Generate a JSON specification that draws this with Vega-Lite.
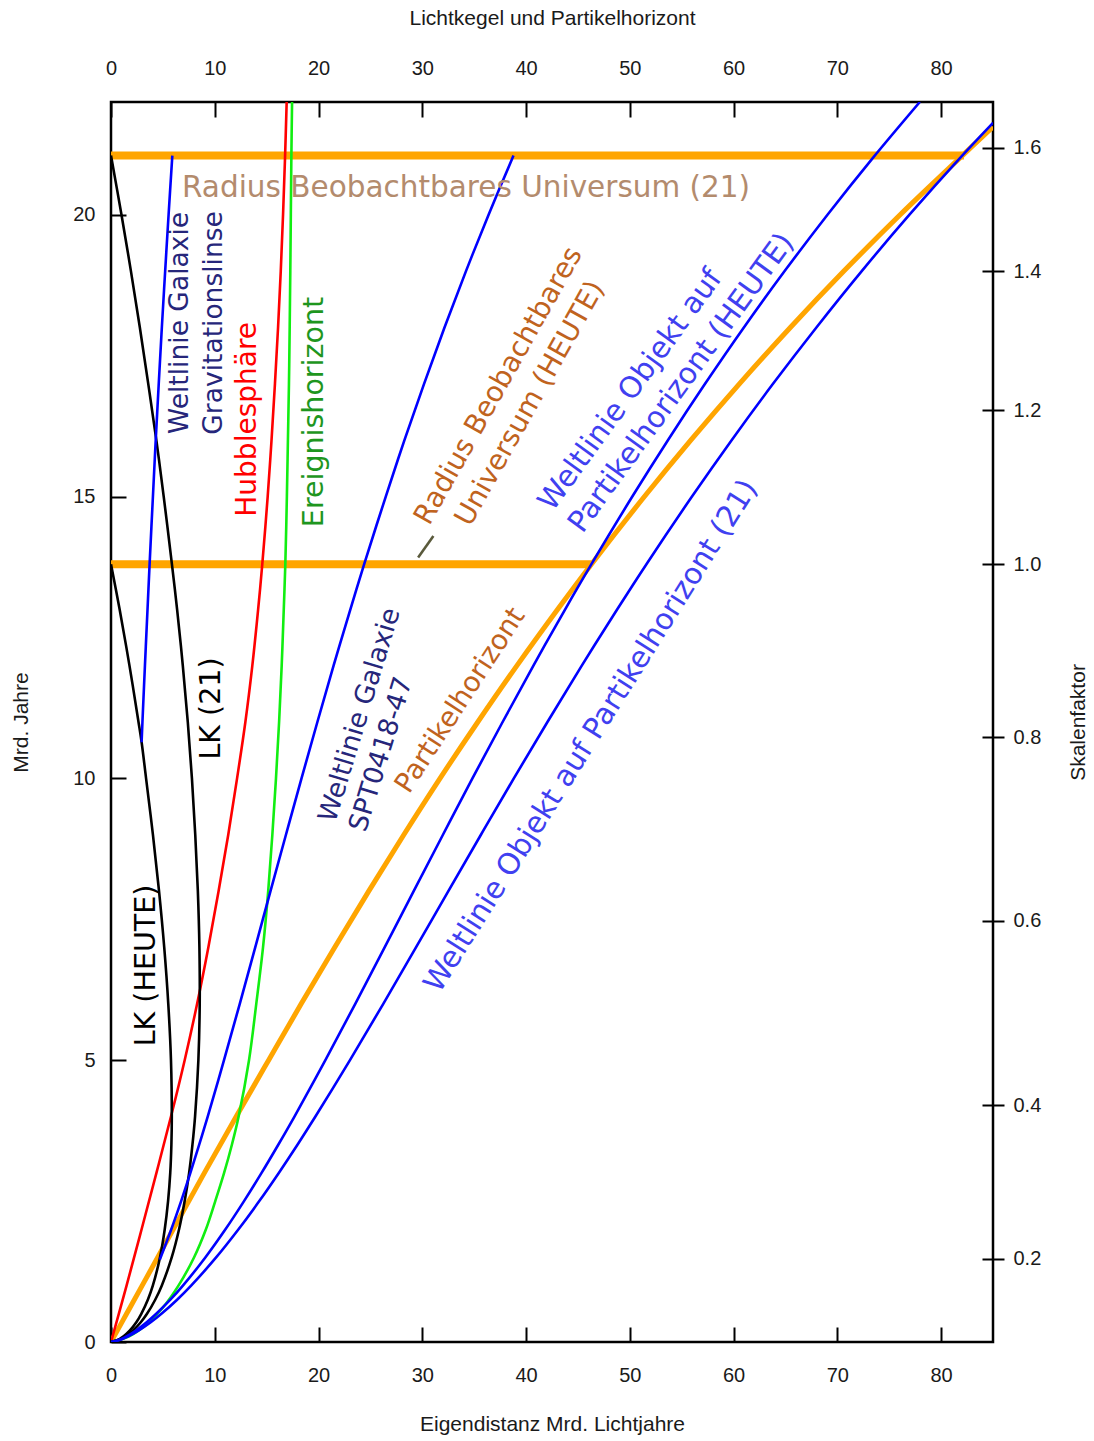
{
  "$schema": "https://vega.github.io/schema/vega-lite/v6.json",
  "width": 882,
  "height": 1240,
  "autosize": {"type": "none"},
  "padding": {"left": 111, "top": 102, "right": 101, "bottom": 99},
  "background": "white",
  "config": {
    "view": {"stroke": "#000", "strokeWidth": 2.5},
    "axis": {
      "domain": false, "grid": false, "tickColor": "#000", "tickWidth": 2,
      "labelFont": "Liberation Sans", "labelFontSize": 20, "labelColor": "#1a1a1a",
      "labelOverlap": false, "labelBound": false, "labelFlush": false,
      "titleFont": "Liberation Sans", "titleFontSize": 21, "titleFontWeight": "normal", "titleColor": "#1a1a1a"
    }
  },
  "datasets": {
    "curves": [
      {"series": "R21", "x": 0, "t": 21.05}, {"series": "R21", "x": 82.2, "t": 21.05},
      {"series": "RH", "x": 0, "t": 13.8}, {"series": "RH", "x": 46.3, "t": 13.8},
      {"series": "PH", "x": 0, "t": 0}, {"series": "PH", "x": 0.3, "t": 0.1}, {"series": "PH", "x": 1.5, "t": 0.5}, {"series": "PH", "x": 3.0, "t": 1.0}, {"series": "PH", "x": 6.0, "t": 2.0}, {"series": "PH", "x": 9.0, "t": 3.0}, {"series": "PH", "x": 12.07, "t": 4.0}, {"series": "PH", "x": 15.19, "t": 5.0}, {"series": "PH", "x": 18.33, "t": 6.0}, {"series": "PH", "x": 21.55, "t": 7.0}, {"series": "PH", "x": 24.84, "t": 8.0}, {"series": "PH", "x": 28.22, "t": 9.0}, {"series": "PH", "x": 31.71, "t": 10.0}, {"series": "PH", "x": 35.35, "t": 11.0}, {"series": "PH", "x": 39.12, "t": 12.0}, {"series": "PH", "x": 43.05, "t": 13.0}, {"series": "PH", "x": 46.3, "t": 13.8}, {"series": "PH", "x": 51.41, "t": 15.0}, {"series": "PH", "x": 55.88, "t": 16.0}, {"series": "PH", "x": 60.56, "t": 17.0}, {"series": "PH", "x": 65.47, "t": 18.0}, {"series": "PH", "x": 70.63, "t": 19.0}, {"series": "PH", "x": 76.05, "t": 20.0}, {"series": "PH", "x": 81.76, "t": 21.0}, {"series": "PH", "x": 85.0, "t": 21.56},
      {"series": "Hubble", "x": 0, "t": 0}, {"series": "Hubble", "x": 1.5, "t": 1}, {"series": "Hubble", "x": 2.95, "t": 2}, {"series": "Hubble", "x": 4.38, "t": 3}, {"series": "Hubble", "x": 5.78, "t": 4}, {"series": "Hubble", "x": 7.1, "t": 5}, {"series": "Hubble", "x": 8.3, "t": 6}, {"series": "Hubble", "x": 9.38, "t": 7}, {"series": "Hubble", "x": 10.37, "t": 8}, {"series": "Hubble", "x": 11.3, "t": 9}, {"series": "Hubble", "x": 12.15, "t": 10}, {"series": "Hubble", "x": 12.95, "t": 11}, {"series": "Hubble", "x": 13.62, "t": 12}, {"series": "Hubble", "x": 14.18, "t": 13}, {"series": "Hubble", "x": 14.58, "t": 13.8}, {"series": "Hubble", "x": 15.1, "t": 15}, {"series": "Hubble", "x": 15.47, "t": 16}, {"series": "Hubble", "x": 15.8, "t": 17}, {"series": "Hubble", "x": 16.1, "t": 18}, {"series": "Hubble", "x": 16.36, "t": 19}, {"series": "Hubble", "x": 16.58, "t": 20}, {"series": "Hubble", "x": 16.77, "t": 21}, {"series": "Hubble", "x": 16.93, "t": 22},
      {"series": "EH", "x": 0, "t": 0}, {"series": "EH", "x": 1.75, "t": 0.1}, {"series": "EH", "x": 3.35, "t": 0.3}, {"series": "EH", "x": 4.95, "t": 0.6}, {"series": "EH", "x": 6.5, "t": 1.0}, {"series": "EH", "x": 8.0, "t": 1.5}, {"series": "EH", "x": 9.15, "t": 2.0}, {"series": "EH", "x": 10.05, "t": 2.5}, {"series": "EH", "x": 10.9, "t": 3.0}, {"series": "EH", "x": 11.65, "t": 3.5}, {"series": "EH", "x": 12.3, "t": 4.0}, {"series": "EH", "x": 13.3, "t": 5.0}, {"series": "EH", "x": 14.0, "t": 6.0}, {"series": "EH", "x": 14.65, "t": 7.0}, {"series": "EH", "x": 15.15, "t": 8.0}, {"series": "EH", "x": 15.55, "t": 9.0}, {"series": "EH", "x": 15.9, "t": 10}, {"series": "EH", "x": 16.2, "t": 11}, {"series": "EH", "x": 16.45, "t": 12}, {"series": "EH", "x": 16.65, "t": 13}, {"series": "EH", "x": 16.8, "t": 13.8}, {"series": "EH", "x": 16.95, "t": 15}, {"series": "EH", "x": 17.05, "t": 16}, {"series": "EH", "x": 17.15, "t": 17}, {"series": "EH", "x": 17.22, "t": 18}, {"series": "EH", "x": 17.28, "t": 19}, {"series": "EH", "x": 17.33, "t": 20}, {"series": "EH", "x": 17.38, "t": 21}, {"series": "EH", "x": 17.45, "t": 22},
      {"series": "LKH", "x": 0, "t": 0}, {"series": "LKH", "x": 0.8, "t": 0.05}, {"series": "LKH", "x": 1.21, "t": 0.1}, {"series": "LKH", "x": 1.8, "t": 0.2}, {"series": "LKH", "x": 2.44, "t": 0.35}, {"series": "LKH", "x": 2.92, "t": 0.5}, {"series": "LKH", "x": 3.55, "t": 0.75}, {"series": "LKH", "x": 4.03, "t": 1.0}, {"series": "LKH", "x": 4.72, "t": 1.5}, {"series": "LKH", "x": 5.18, "t": 2.0}, {"series": "LKH", "x": 5.5, "t": 2.5}, {"series": "LKH", "x": 5.71, "t": 3.0}, {"series": "LKH", "x": 5.82, "t": 3.5}, {"series": "LKH", "x": 5.86, "t": 4.0}, {"series": "LKH", "x": 5.78, "t": 5.0}, {"series": "LKH", "x": 5.52, "t": 6.0}, {"series": "LKH", "x": 5.13, "t": 7.0}, {"series": "LKH", "x": 4.63, "t": 8.0}, {"series": "LKH", "x": 4.04, "t": 9.0}, {"series": "LKH", "x": 3.38, "t": 10.0}, {"series": "LKH", "x": 2.95, "t": 10.64}, {"series": "LKH", "x": 2.65, "t": 11.0}, {"series": "LKH", "x": 1.78, "t": 12.0}, {"series": "LKH", "x": 0.83, "t": 13.0}, {"series": "LKH", "x": 0, "t": 13.8},
      {"series": "LK21", "x": 0, "t": 0}, {"series": "LK21", "x": 0.92, "t": 0.05}, {"series": "LK21", "x": 1.4, "t": 0.1}, {"series": "LK21", "x": 2.1, "t": 0.2}, {"series": "LK21", "x": 2.87, "t": 0.35}, {"series": "LK21", "x": 3.47, "t": 0.5}, {"series": "LK21", "x": 4.26, "t": 0.75}, {"series": "LK21", "x": 4.89, "t": 1.0}, {"series": "LK21", "x": 5.85, "t": 1.5}, {"series": "LK21", "x": 6.56, "t": 2.0}, {"series": "LK21", "x": 7.1, "t": 2.5}, {"series": "LK21", "x": 7.53, "t": 3.0}, {"series": "LK21", "x": 7.85, "t": 3.5}, {"series": "LK21", "x": 8.1, "t": 4.0}, {"series": "LK21", "x": 8.42, "t": 5.0}, {"series": "LK21", "x": 8.55, "t": 6.0}, {"series": "LK21", "x": 8.52, "t": 7.0}, {"series": "LK21", "x": 8.37, "t": 8.0}, {"series": "LK21", "x": 8.12, "t": 9.0}, {"series": "LK21", "x": 7.8, "t": 10.0}, {"series": "LK21", "x": 7.4, "t": 11.0}, {"series": "LK21", "x": 6.92, "t": 12.0}, {"series": "LK21", "x": 6.37, "t": 13.0}, {"series": "LK21", "x": 5.87, "t": 13.8}, {"series": "LK21", "x": 5.08, "t": 15.0}, {"series": "LK21", "x": 4.37, "t": 16.0}, {"series": "LK21", "x": 3.59, "t": 17.0}, {"series": "LK21", "x": 2.78, "t": 18.0}, {"series": "LK21", "x": 1.92, "t": 19.0}, {"series": "LK21", "x": 1.01, "t": 20.0}, {"series": "LK21", "x": 0, "t": 21.05},
      {"series": "GL", "x": 2.95, "t": 10.64}, {"series": "GL", "x": 3.03, "t": 11.0}, {"series": "GL", "x": 3.27, "t": 12.0}, {"series": "GL", "x": 3.52, "t": 13.0}, {"series": "GL", "x": 3.72, "t": 13.8}, {"series": "GL", "x": 4.04, "t": 15.0}, {"series": "GL", "x": 4.31, "t": 16.0}, {"series": "GL", "x": 4.6, "t": 17.0}, {"series": "GL", "x": 4.9, "t": 18.0}, {"series": "GL", "x": 5.22, "t": 19.0}, {"series": "GL", "x": 5.55, "t": 20.0}, {"series": "GL", "x": 5.91, "t": 21.05},
      {"series": "SPT", "x": 4.7, "t": 1.46}, {"series": "SPT", "x": 5.81, "t": 2.0}, {"series": "SPT", "x": 6.76, "t": 2.5}, {"series": "SPT", "x": 7.65, "t": 3.0}, {"series": "SPT", "x": 8.5, "t": 3.5}, {"series": "SPT", "x": 9.32, "t": 4.0}, {"series": "SPT", "x": 10.89, "t": 5.0}, {"series": "SPT", "x": 12.41, "t": 6.0}, {"series": "SPT", "x": 13.9, "t": 7.0}, {"series": "SPT", "x": 15.37, "t": 8.0}, {"series": "SPT", "x": 16.86, "t": 9.0}, {"series": "SPT", "x": 18.36, "t": 10.0}, {"series": "SPT", "x": 19.89, "t": 11.0}, {"series": "SPT", "x": 21.45, "t": 12.0}, {"series": "SPT", "x": 23.07, "t": 13.0}, {"series": "SPT", "x": 24.4, "t": 13.8}, {"series": "SPT", "x": 26.48, "t": 15.0}, {"series": "SPT", "x": 28.28, "t": 16.0}, {"series": "SPT", "x": 30.17, "t": 17.0}, {"series": "SPT", "x": 32.14, "t": 18.0}, {"series": "SPT", "x": 34.21, "t": 19.0}, {"series": "SPT", "x": 36.39, "t": 20.0}, {"series": "SPT", "x": 38.79, "t": 21.05},
      {"series": "PHH", "x": 0, "t": 0}, {"series": "PHH", "x": 0.94, "t": 0.05}, {"series": "PHH", "x": 1.49, "t": 0.1}, {"series": "PHH", "x": 2.37, "t": 0.2}, {"series": "PHH", "x": 3.44, "t": 0.35}, {"series": "PHH", "x": 4.36, "t": 0.5}, {"series": "PHH", "x": 5.72, "t": 0.75}, {"series": "PHH", "x": 6.93, "t": 1.0}, {"series": "PHH", "x": 9.09, "t": 1.5}, {"series": "PHH", "x": 11.03, "t": 2.0}, {"series": "PHH", "x": 12.82, "t": 2.5}, {"series": "PHH", "x": 14.51, "t": 3.0}, {"series": "PHH", "x": 16.12, "t": 3.5}, {"series": "PHH", "x": 17.68, "t": 4.0}, {"series": "PHH", "x": 20.66, "t": 5.0}, {"series": "PHH", "x": 23.54, "t": 6.0}, {"series": "PHH", "x": 26.37, "t": 7.0}, {"series": "PHH", "x": 29.17, "t": 8.0}, {"series": "PHH", "x": 31.99, "t": 9.0}, {"series": "PHH", "x": 34.83, "t": 10.0}, {"series": "PHH", "x": 37.74, "t": 11.0}, {"series": "PHH", "x": 40.71, "t": 12.0}, {"series": "PHH", "x": 43.77, "t": 13.0}, {"series": "PHH", "x": 46.3, "t": 13.8}, {"series": "PHH", "x": 50.24, "t": 15.0}, {"series": "PHH", "x": 53.67, "t": 16.0}, {"series": "PHH", "x": 57.25, "t": 17.0}, {"series": "PHH", "x": 60.99, "t": 18.0}, {"series": "PHH", "x": 64.92, "t": 19.0}, {"series": "PHH", "x": 69.05, "t": 20.0}, {"series": "PHH", "x": 73.39, "t": 21.0}, {"series": "PHH", "x": 77.95, "t": 22.0},
      {"series": "PH21", "x": 0, "t": 0}, {"series": "PH21", "x": 1.05, "t": 0.05}, {"series": "PH21", "x": 1.66, "t": 0.1}, {"series": "PH21", "x": 2.64, "t": 0.2}, {"series": "PH21", "x": 3.83, "t": 0.35}, {"series": "PH21", "x": 4.86, "t": 0.5}, {"series": "PH21", "x": 6.37, "t": 0.75}, {"series": "PH21", "x": 7.72, "t": 1.0}, {"series": "PH21", "x": 10.13, "t": 1.5}, {"series": "PH21", "x": 12.29, "t": 2.0}, {"series": "PH21", "x": 14.29, "t": 2.5}, {"series": "PH21", "x": 16.17, "t": 3.0}, {"series": "PH21", "x": 17.97, "t": 3.5}, {"series": "PH21", "x": 19.7, "t": 4.0}, {"series": "PH21", "x": 23.03, "t": 5.0}, {"series": "PH21", "x": 26.24, "t": 6.0}, {"series": "PH21", "x": 29.39, "t": 7.0}, {"series": "PH21", "x": 32.51, "t": 8.0}, {"series": "PH21", "x": 35.65, "t": 9.0}, {"series": "PH21", "x": 38.82, "t": 10.0}, {"series": "PH21", "x": 42.06, "t": 11.0}, {"series": "PH21", "x": 45.37, "t": 12.0}, {"series": "PH21", "x": 48.79, "t": 13.0}, {"series": "PH21", "x": 51.6, "t": 13.8}, {"series": "PH21", "x": 55.99, "t": 15.0}, {"series": "PH21", "x": 59.81, "t": 16.0}, {"series": "PH21", "x": 63.8, "t": 17.0}, {"series": "PH21", "x": 67.98, "t": 18.0}, {"series": "PH21", "x": 72.35, "t": 19.0}, {"series": "PH21", "x": 76.95, "t": 20.0}, {"series": "PH21", "x": 81.79, "t": 21.0}, {"series": "PH21", "x": 85.0, "t": 21.63},
      {"series": "leader", "x": 29.6, "t": 13.92}, {"series": "leader", "x": 31.07, "t": 14.3}
    ]
  },
  "layer": [
    {
      "data": {"name": "curves"},
      "transform": [{"filter": "datum.series == 'R21' || datum.series == 'RH'"}],
      "mark": {"type": "line", "color": "#ffa500", "strokeWidth": 8, "strokeCap": "butt", "clip": true},
      "encoding": {
        "x": {"field": "x", "type": "quantitative", "scale": {"domain": [0, 85], "nice": false, "zero": false},
              "axis": {"orient": "bottom", "values": [0, 10, 20, 30, 40, 50, 60, 70, 80], "offset": -15, "tickSize": 15, "labelPadding": 23, "title": "Eigendistanz Mrd. Lichtjahre", "titlePadding": 28}},
        "y": {"field": "t", "type": "quantitative", "scale": {"domain": [0, 22], "nice": false, "zero": false},
              "axis": {"orient": "left", "values": [0, 5, 10, 15, 20], "offset": -15, "tickSize": 15, "labelPadding": 16, "title": "Mrd. Jahre", "titlePadding": 41}},
        "detail": {"field": "series"},
        "order": {"field": "x"}
      }
    },
    {
      "data": {"name": "curves"},
      "transform": [{"filter": "datum.series == 'PH'"}],
      "mark": {"type": "line", "color": "#ffa500", "strokeWidth": 5, "interpolate": "catmull-rom", "clip": true},
      "encoding": {
        "x": {"field": "x", "type": "quantitative", "scale": {"domain": [0, 85], "nice": false, "zero": false},
              "axis": {"orient": "top", "values": [0, 10, 20, 30, 40, 50, 60, 70, 80], "offset": -15, "tickSize": 15, "labelPadding": 24, "title": "Lichtkegel und Partikelhorizont", "titlePadding": 30}},
        "y": {"field": "t", "type": "quantitative", "scale": {"domain": [0, 22], "nice": false, "zero": false},
              "axis": {"orient": "right", "values": [1.48, 4.2, 7.47, 10.73, 13.8, 16.53, 19.0, 21.19], "labelExpr": "datum.value < 2 ? '0.2' : datum.value < 5 ? '0.4' : datum.value < 8 ? '0.6' : datum.value < 11 ? '0.8' : datum.value < 14 ? '1.0' : datum.value < 17 ? '1.2' : datum.value < 20 ? '1.4' : '1.6'", "offset": -11, "tickSize": 22, "labelPadding": 9, "title": "Skalenfaktor", "titlePadding": 27, "titleAngle": -90, "titleBaseline": "top"}},
        "order": {"field": "t"}
      }
    },
    {
      "data": {"name": "curves"},
      "transform": [{"filter": "datum.series != 'PH' && datum.series != 'R21' && datum.series != 'RH'"}],
      "mark": {"type": "line", "strokeWidth": 2.6, "interpolate": "catmull-rom", "clip": true},
      "encoding": {
        "x": {"field": "x", "type": "quantitative", "scale": {"domain": [0, 85], "nice": false, "zero": false}, "axis": null},
        "y": {"field": "t", "type": "quantitative", "scale": {"domain": [0, 22], "nice": false, "zero": false}, "axis": null},
        "color": {"field": "series", "type": "nominal", "legend": null,
                  "scale": {"domain": ["Hubble", "EH", "LKH", "LK21", "GL", "SPT", "PHH", "PH21", "leader"],
                            "range": ["#ff0000", "#11ee11", "#000000", "#000000", "#0000ff", "#0000ff", "#0000ff", "#0000ff", "#5a5a3c"]}},
        "order": {"field": "t"}
      }
    },
    {
      "data": {"values": [{"label": "Radius Beobachtbares Universum (21)", "x": 6.84, "t": 20.48}]},
      "mark": {"type": "text", "align": "left", "baseline": "middle", "font": "DejaVu Sans", "fontSize": 29.5, "color": "#b38b6d"},
      "encoding": {
        "x": {"field": "x", "type": "quantitative", "axis": null},
        "y": {"field": "t", "type": "quantitative", "axis": null},
        "text": {"field": "label"}
      }
    },
    {
      "data": {"values": [{"label": "Weltlinie Galaxie\nGravitationslinse", "x": 6.65, "t": 18.08}]},
      "mark": {"type": "text", "align": "center", "baseline": "middle", "angle": -90, "font": "DejaVu Sans", "fontSize": 26.5, "lineBreak": "\n", "lineHeight": 34, "color": "#26267a"},
      "encoding": {
        "x": {"field": "x", "type": "quantitative", "axis": null},
        "y": {"field": "t", "type": "quantitative", "axis": null},
        "text": {"field": "label"}
      }
    },
    {
      "data": {"values": [{"label": "Hubblesphäre", "x": 13.2, "t": 16.37}]},
      "mark": {"type": "text", "align": "center", "baseline": "middle", "angle": -90, "font": "DejaVu Sans", "fontSize": 28, "color": "#ff0000"},
      "encoding": {
        "x": {"field": "x", "type": "quantitative", "axis": null},
        "y": {"field": "t", "type": "quantitative", "axis": null},
        "text": {"field": "label"}
      }
    },
    {
      "data": {"values": [{"label": "Ereignishorizont", "x": 19.6, "t": 16.5}]},
      "mark": {"type": "text", "align": "center", "baseline": "middle", "angle": -90, "font": "DejaVu Sans", "fontSize": 28.5, "color": "#1e961e"},
      "encoding": {
        "x": {"field": "x", "type": "quantitative", "axis": null},
        "y": {"field": "t", "type": "quantitative", "axis": null},
        "text": {"field": "label"}
      }
    },
    {
      "data": {"values": [{"label": "LK (21)", "x": 9.64, "t": 11.24}]},
      "mark": {"type": "text", "align": "center", "baseline": "middle", "angle": -90, "font": "DejaVu Sans", "fontSize": 28.5, "color": "#000000"},
      "encoding": {
        "x": {"field": "x", "type": "quantitative", "axis": null},
        "y": {"field": "t", "type": "quantitative", "axis": null},
        "text": {"field": "label"}
      }
    },
    {
      "data": {"values": [{"label": "LK (HEUTE)", "x": 3.37, "t": 6.68}]},
      "mark": {"type": "text", "align": "center", "baseline": "middle", "angle": -90, "font": "DejaVu Sans", "fontSize": 28.5, "color": "#000000"},
      "encoding": {
        "x": {"field": "x", "type": "quantitative", "axis": null},
        "y": {"field": "t", "type": "quantitative", "axis": null},
        "text": {"field": "label"}
      }
    },
    {
      "data": {"values": [{"label": "Weltlinie Galaxie\nSPT0418-47", "x": 20.85, "t": 9.24}]},
      "mark": {"type": "text", "align": "left", "baseline": "middle", "angle": -73, "font": "DejaVu Sans", "fontSize": 26.5, "lineBreak": "\n", "lineHeight": 32, "color": "#26267a"},
      "encoding": {
        "x": {"field": "x", "type": "quantitative", "axis": null},
        "y": {"field": "t", "type": "quantitative", "axis": null},
        "text": {"field": "label"}
      }
    },
    {
      "data": {"values": [{"label": "Radius Beobachtbares\nUniversum (HEUTE)", "x": 37.39, "t": 16.96}]},
      "mark": {"type": "text", "align": "center", "baseline": "middle", "angle": -60.7, "font": "DejaVu Sans", "fontSize": 28, "lineBreak": "\n", "lineHeight": 36, "color": "#c0631e"},
      "encoding": {
        "x": {"field": "x", "type": "quantitative", "axis": null},
        "y": {"field": "t", "type": "quantitative", "axis": null},
        "text": {"field": "label"}
      }
    },
    {
      "data": {"values": [{"label": "Weltlinie Objekt auf\nPartikelhorizont (HEUTE)", "x": 41.85, "t": 14.81}]},
      "mark": {"type": "text", "align": "left", "baseline": "middle", "angle": -54, "font": "DejaVu Sans", "fontSize": 29.5, "lineBreak": "\n", "lineHeight": 37, "color": "#4040f0"},
      "encoding": {
        "x": {"field": "x", "type": "quantitative", "axis": null},
        "y": {"field": "t", "type": "quantitative", "axis": null},
        "text": {"field": "label"}
      }
    },
    {
      "data": {"values": [{"label": "Weltlinie Objekt auf Partikelhorizont (21)", "x": 46.27, "t": 10.75}]},
      "mark": {"type": "text", "align": "center", "baseline": "middle", "angle": -57.8, "font": "DejaVu Sans", "fontSize": 29.5, "color": "#4040f0"},
      "encoding": {
        "x": {"field": "x", "type": "quantitative", "axis": null},
        "y": {"field": "t", "type": "quantitative", "axis": null},
        "text": {"field": "label"}
      }
    },
    {
      "data": {"values": [{"label": "Partikelhorizont", "x": 33.7, "t": 11.38}]},
      "mark": {"type": "text", "align": "center", "baseline": "middle", "angle": -57, "font": "DejaVu Sans", "fontSize": 27.5, "color": "#c0631e"},
      "encoding": {
        "x": {"field": "x", "type": "quantitative", "axis": null},
        "y": {"field": "t", "type": "quantitative", "axis": null},
        "text": {"field": "label"}
      }
    }
  ],
  "resolve": {"axis": {"x": "independent", "y": "independent"}}
}
